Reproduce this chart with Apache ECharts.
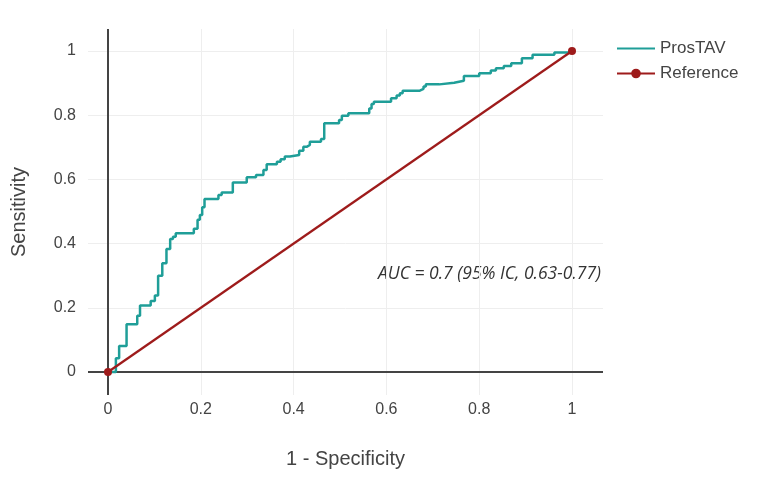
<!DOCTYPE html>
<html>
<head>
<meta charset="utf-8">
<script src="https://cdn.jsdelivr.net/npm/echarts@6/dist/echarts.min.js"></script>
<style>
  html, body { margin: 0; padding: 0; background: #fff; }
  #roc { width: 762px; height: 481px; }
</style>
</head>
<body>
<div id="roc"></div>
<script>
// ROC curve: false positive rate where the curve steps up, and the sensitivity after the step
const fpr = [0, 0.017, 0.024, 0.040, 0.063, 0.069, 0.092, 0.101, 0.108, 0.117,
  0.126, 0.134, 0.140, 0.146, 0.185, 0.193, 0.198, 0.203, 0.208, 0.238,
  0.245, 0.269, 0.299, 0.319, 0.335, 0.342, 0.364, 0.372, 0.381, 0.392,
  0.412, 0.421, 0.429, 0.435, 0.459, 0.466, 0.498, 0.504, 0.518, 0.563,
  0.568, 0.573, 0.610, 0.622, 0.629, 0.635, 0.671, 0.680, 0.685, 0.714,
  0.746, 0.767, 0.800, 0.825, 0.836, 0.853, 0.869, 0.892, 0.915, 0.962, 1.0];
const tpr = [0, 0.043, 0.081, 0.149, 0.175, 0.207, 0.221, 0.238, 0.300, 0.339,
  0.383, 0.414, 0.421, 0.432, 0.446, 0.474, 0.489, 0.513, 0.539, 0.551,
  0.559, 0.590, 0.607, 0.614, 0.629, 0.647, 0.655, 0.663, 0.671, 0.676,
  0.689, 0.702, 0.707, 0.717, 0.726, 0.775, 0.785, 0.798, 0.806, 0.821,
  0.835, 0.842, 0.853, 0.861, 0.868, 0.876, 0.882, 0.889, 0.896, 0.901,
  0.907, 0.922, 0.931, 0.939, 0.946, 0.953, 0.962, 0.977, 0.988, 0.995, 1.0];

// diagonal reference line
const refX = [0, 1];
const refY = [0, 1];

const aucText = "AUC = 0.7 (95% IC, 0.63-0.77)";

// corner points of the step curve (horizontal, then up)
const rocPoints = [[fpr[0], tpr[0]]];
for (let i = 1; i < fpr.length; i++) {
  rocPoints.push([fpr[i], tpr[i - 1]]);
  rocPoints.push([fpr[i], tpr[i]]);
}
const refPoints = refX.map((x, i) => [x, refY[i]]);

const axisFont = "'Liberation Sans', Arial, sans-serif";

const myChart = echarts.init(document.getElementById("roc"));
const option = {
  backgroundColor: "#fff",
  animation: false,
  grid: { left: 88, right: 159, top: 29, bottom: 86 },
  legend: {
    orient: "vertical",
    left: 611,
    top: 35,
    itemWidth: 38,
    itemHeight: 12,
    itemGap: 8,
    textStyle: { fontFamily: axisFont, fontSize: 17, color: "#444" },
    data: [
      { name: "ProsTAV", itemStyle: { opacity: 0 } },
      { name: "Reference" }
    ]
  },
  xAxis: {
    type: "value",
    min: -0.0431,
    max: 1.0668,
    splitNumber: 5,
    name: "1 - Specificity",
    nameLocation: "middle",
    nameGap: 54,
    nameTextStyle: { fontFamily: axisFont, fontSize: 20, color: "#444" },
    axisLine: { show: false },
    axisTick: { show: false },
    axisLabel: {
      fontFamily: axisFont, fontSize: 16, color: "#444", margin: 7,
      showMinLabel: false, showMaxLabel: false
    },
    splitLine: { show: true, showMinLine: false, showMaxLine: false, lineStyle: { color: "#eeeeee", width: 1 } }
  },
  yAxis: {
    type: "value",
    min: -0.0717,
    max: 1.0685,
    splitNumber: 5,
    name: "Sensitivity",
    nameLocation: "middle",
    nameGap: 59,
    nameTextStyle: { fontFamily: axisFont, fontSize: 20, color: "#444" },
    axisLine: { show: false },
    axisTick: { show: false },
    axisLabel: {
      fontFamily: axisFont, fontSize: 16, color: "#444", margin: 12,
      showMinLabel: false, showMaxLabel: false
    },
    splitLine: { show: true, showMinLine: false, showMaxLine: false, lineStyle: { color: "#eeeeee", width: 1 } }
  },
  series: [
    {
      name: "Reference",
      type: "line",
      data: refPoints,
      symbol: "circle",
      symbolSize: 8,
      z: 3,
      lineStyle: { color: "#9e1b1b", width: 2.2 },
      itemStyle: { color: "#9e1b1b" },
      markLine: {
        silent: true,
        symbol: ["none", "none"],
        label: { show: false },
        lineStyle: { color: "#444", width: 2, type: "solid" },
        z: 1,
        data: [{ xAxis: 0 }, { yAxis: 0 }]
      }
    },
    {
      name: "ProsTAV",
      type: "line",
      data: rocPoints,
      symbol: "none",
      z: 2,
      lineStyle: { color: "#1f9e98", width: 2.5 },
      itemStyle: { color: "#1f9e98" }
    }
  ],
  graphic: [
    {
      type: "text",
      right: 762 - 601,
      top: 265,
      style: {
        text: aucText,
        font: "italic 17.5px 'Open Sans', sans-serif",
        fill: "#333"
      }
    }
  ]
};

option && myChart.setOption(option);
</script>
</body>
</html>
